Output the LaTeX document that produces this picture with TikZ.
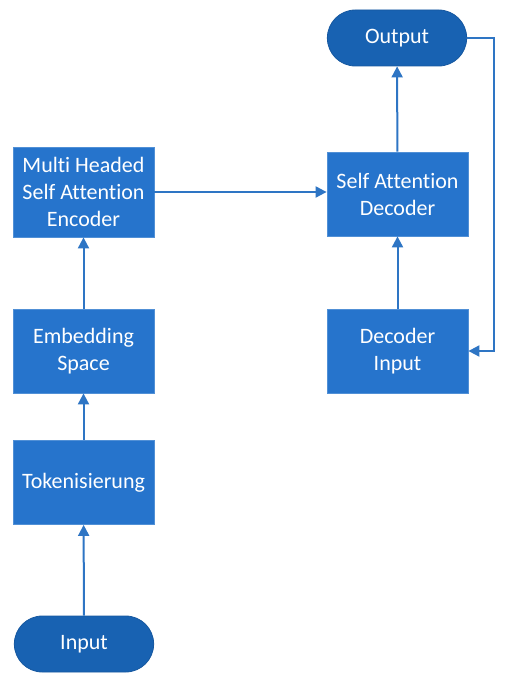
\documentclass[tikz,border=0pt]{standalone}
\usepackage{fontspec}
\setmainfont{Carlito}[Ligatures=NoCommon]
\usetikzlibrary{arrows.meta,shapes.misc}
\definecolor{boxblue}{RGB}{38,116,204}
\definecolor{termblue}{RGB}{24,98,178}
\definecolor{lineblue}{RGB}{46,117,196}
\tikzset{
  stepbox/.style={rectangle, fill=boxblue, draw=boxblue!80!white, line width=0.8pt,
    minimum width=141pt, minimum height=84pt, text=white, align=center,
    font=\fontsize{22}{27}\selectfont},
  term/.style={rounded rectangle, fill=termblue, draw=termblue!90!black, line width=0.8pt,
    minimum width=146pt, minimum height=56pt, text=white,
    font=\fontsize{22}{27}\selectfont},
  flow/.style={draw=lineblue, line width=2pt, -{Triangle[length=11pt,width=11pt]}}
}
\begin{document}
\begin{tikzpicture}[x=1pt,y=-1pt]
\useasboundingbox (0,0) rectangle (504,684);
% left column
\node[term] (input) at (84,644) {Input};
\node[stepbox] (token) at (83.5,482.5) {Tokenisierung};
\node[stepbox] (embed) at (83.5,351) {Embedding\\Space};
\node[stepbox, minimum height=90pt] (enc) at (83.5,192) {Multi Headed\\Self Attention\\Encoder};
% right column
\node[stepbox] (decin) at (397.5,351) {Decoder\\Input};
\node[stepbox] (dec) at (397.5,194) {Self Attention\\Decoder};
\node[term] (output) at (397,38) {Output};
\coordinate (back) at (494,38);
% connectors
\draw[flow] (input) -- (token);
\draw[flow] (token) -- (embed);
\draw[flow] (embed) -- (enc);
\draw[flow] (enc.east) -- (enc.east -| dec.west);
\draw[flow] (decin) -- (dec);
\draw[flow] (dec) -- (output);
\draw[flow] (output.east) -- (back) |- (decin.east);
\end{tikzpicture}
\end{document}
